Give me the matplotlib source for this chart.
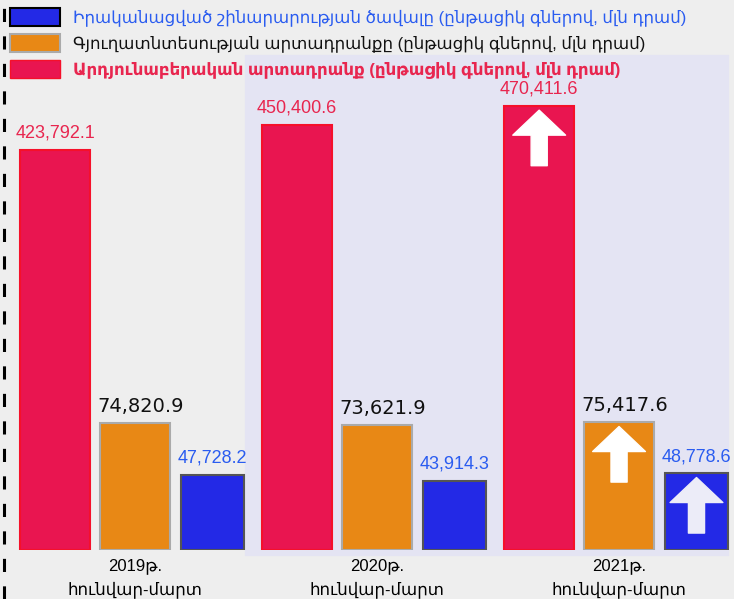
import numpy as np
import matplotlib.pyplot as plt
from matplotlib.patches import Patch, Rectangle
from matplotlib.lines import Line2D

plt.rcParams['font.family'] = ['Liberation Sans', 'DejaVu Sans']

# Data (mln AMD, current prices), January-March
years = ["2019թ.", "2020թ.", "2021թ."]
period = "հունվար-մարտ"
industry = [423792.1, 450400.6, 470411.6]
agriculture = [74820.9, 73621.9, 75417.6]
construction = [47728.2, 43914.3, 48778.6]
growth = [False, False, True]  # up arrow on the latest year

lbl_constr = "Իրականացված շինարարության ծավալը (ընթացիկ գներով, մլն դրամ)"
lbl_agri = "Գյուղատնտեսության արտադրանքը (ընթացիկ գներով, մլն դրամ)"
lbl_ind = "Արդյունաբերական արտադրանք (ընթացիկ գներով, մլն դրամ)"

W, H = 734, 599
fig = plt.figure(figsize=(W / 100, H / 100), dpi=100, facecolor="#eeeeee")

# lavender panel behind the right part
fig.add_artist(Rectangle((245 / W, (H - 555) / H), (728 - 245) / W, 500 / H,
                         transform=fig.transFigure, color="#e4e4f3", zorder=-1))
# dashed line on the left edge
fig.add_artist(Line2D([3.5 / W, 3.5 / W], [0, 1], transform=fig.transFigure,
                      color="black", lw=2.2, dashes=(4.3, 4.7)))

rect = [0, 49 / H, 1, 550 / H]
ax = fig.add_axes(rect, label="ind")
ax_a = fig.add_axes(rect, label="agri", sharex=ax)
ax_c = fig.add_axes(rect, label="constr", sharex=ax)

x = np.arange(len(years))
series = [
    # axis, values, offset, width, face, edge, label colour, label dx, ymax, arrow colour
    (ax, industry, -0.33, 0.29, "#e91550", "#f5102a", "#e8264f", 0, 582700, "white"),
    (ax_a, agriculture, 0.0, 0.29, "#e88815", "#aaaaaa", "#111111", 4, 325000, "white"),
    (ax_c, construction, 0.32, 0.26, "#2329e6", "#555555", "#2a5cf0", 0, 350000, "#ececf8"),
]

for a, vals, off, w, fc, ec, tc, dx, ymax, arc in series:
    a.set_facecolor("none")
    a.set_ylim(0, ymax)
    a.bar(x + off, vals, width=w, color=fc, edgecolor=ec, linewidth=1.5)
    for xi, v, up in zip(x, vals, growth):
        if tc == "#111111":
            # agriculture labels use a wider face
            a.annotate(f"{v:,.1f}", (xi + off, v), xytext=(dx, 12), textcoords="offset points",
                       ha="center", va="center", fontsize=14, color=tc,
                       family="DejaVu Sans")
        else:
            a.annotate(f"{v:,.1f}", (xi + off, v), xytext=(dx, 12), textcoords="offset points",
                       ha="center", va="center", fontsize=13, color=tc)
        if up:
            a.annotate("", xy=(xi + off, v), xytext=(0, -43), textcoords="offset points",
                       arrowprops=dict(arrowstyle="simple,head_length=0.45,head_width=0.95,tail_width=0.29",
                                       mutation_scale=40, color=arc, shrinkA=0, shrinkB=3))

ax.set_xlim(-0.558, 2.475)
for a in (ax_a, ax_c):
    a.axis("off")
for s in ax.spines.values():
    s.set_visible(False)
ax.set_yticks([])
ax.set_xticks(x)
ax.set_xticklabels([f"{y}\n{period}" for y in years], fontsize=12)
ax.tick_params(axis="x", length=0, pad=6)
for t in ax.get_xticklabels():
    t.set_linespacing(1.5)

handles = [Patch(facecolor="#2329e6", edgecolor="black", linewidth=1.5),
           Patch(facecolor="#e88815", edgecolor="#aaaaaa", linewidth=1.5),
           Patch(facecolor="#e91550", edgecolor="#f5102a", linewidth=1)]
leg = fig.legend(handles, [lbl_constr, lbl_agri, lbl_ind], loc="upper left",
                 bbox_to_anchor=(10 / W, 1 - 8 / H), frameon=False, fontsize=12,
                 handlelength=3.0, handleheight=1.3, labelspacing=0.45,
                 handletextpad=0.8, borderpad=0, borderaxespad=0,
                 labelcolor=["#2a5cf0", "#111111", "#e8264f"])
leg.get_texts()[2].set_fontweight("bold")

fig.savefig("out.png", dpi=100)
